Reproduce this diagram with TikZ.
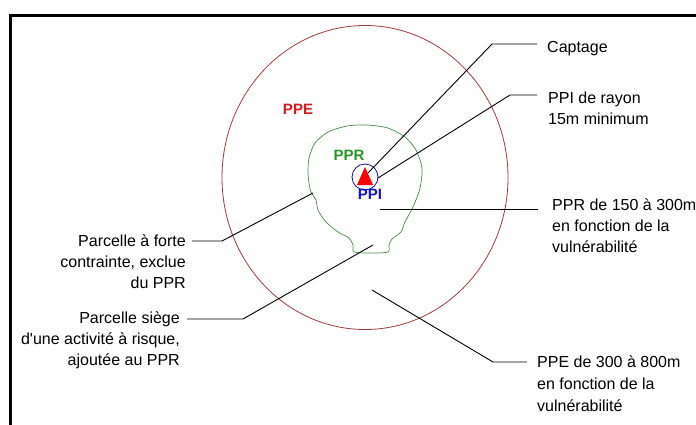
\documentclass[tikz,border=0pt]{standalone}
\usepackage{fontspec}
\setmainfont{Liberation Sans}
\newfontfamily\plainarial{Liberation Sans}[Ligatures=TeXOff]
\definecolor{ppered}{RGB}{215,30,30}
\definecolor{pprgreen}{RGB}{40,150,40}
\definecolor{ppiblue}{RGB}{20,20,200}
\definecolor{circred}{RGB}{160,60,60}
\definecolor{blobgreen}{RGB}{70,140,70}
\begin{document}
\begin{tikzpicture}[x=1pt,y=-1pt,
  lbl/.style={font=\plainarial\fontsize{16}{21}\selectfont, inner sep=0pt, align=left, anchor=north west},
  rlbl/.style={font=\plainarial\fontsize{16}{21}\selectfont, inner sep=0pt, align=right, anchor=north east},
  zone/.style={font=\fontsize{15}{18}\selectfont\bfseries, inner sep=0pt},
  lead/.style={draw=black, line width=0.9pt}]
\useasboundingbox (0,0) rectangle (696,424);
\fill[white] (0,0) rectangle (696,424);
% frame
\draw[line width=3pt] (10,440) -- (10,15) -- (710,15);
% PPE circle
\draw[circred, line width=0.8pt] (365,177.5) ellipse [x radius=143, y radius=152];
% PPR blob
\draw[blobgreen, line width=0.7pt] plot[smooth cycle, tension=0.45] coordinates {
 (367,125) (388,128) (405,137) (416,150) (422,168) (420,188) (413,207) (405,222)
 (401,232) (392,239) (389,245) (388,252) (370,253) (354,252) (353,245) (349,238)
 (338,232) (326,222) (318,210) (316,200) (311,192) (309,183) (308,172) (309,158)
 (315,143) (328,132) (347,126)};
% PPI circle and triangle
\draw[ppiblue!70!black, line width=0.8pt] (365,177) circle [radius=13];
\fill[red] (365,167) -- (373,185) -- (357,185) -- cycle;
% zone labels
\node[zone, text=ppered] (lppe) at (298,109) {PPE};
\node[zone, text=pprgreen] (lppr) at (349,155) {PPR};
\node[zone, text=ppiblue] (lppi) at (370,194) {PPI};
% text labels
\node[lbl] (tcap) at (547,41) {Captage};
\node[lbl] (tppi) at (548,92) {PPI de rayon\\15m minimum};
\node[lbl] (tppr) at (552,199) {PPR de 150 à 300m\\en fonction de la\\vulnérabilité};
\node[lbl, font=\plainarial\fontsize{16}{22}\selectfont] (tppe) at (537,356) {PPE de 300 à 800m\\en fonction de la\\vulnérabilité};
\node[rlbl] (tforte) at (186,235) {Parcelle à forte\\contrainte, exclue\\du PPR};
\node[rlbl] (tsiege) at (180,312) {Parcelle siège\\d'une activité à risque,\\ajoutée au PPR};
% leader coordinates
\coordinate (capA) at (368,173);
\coordinate (capB) at (492,44);
\coordinate (capC) at (537,44);
\coordinate (ppiA) at (378,178);
\coordinate (ppiB) at (510,95);
\coordinate (ppiC) at (537,95);
\coordinate (pprA) at (380,209);
\coordinate (pprC) at (538,209);
\coordinate (ppeA) at (372,290);
\coordinate (ppeB) at (493,362);
\coordinate (ppeC) at (527,362);
\coordinate (forA) at (313,193);
\coordinate (forB) at (222,241);
\coordinate (forC) at (192,241);
\coordinate (sieA) at (373,245);
\coordinate (sieB) at (243,319);
\coordinate (sieC) at (187,319);
% leaders
\draw[lead] (capA) -- (capB) -- (capC);
\draw[lead] (ppiA) -- (ppiB) -- (ppiC);
\draw[lead] (pprA) -- (pprC);
\draw[lead] (ppeA) -- (ppeB) -- (ppeC);
\draw[lead] (forA) -- (forB) -- (forC);
\draw[lead] (sieA) -- (sieB) -- (sieC);
\end{tikzpicture}
\end{document}
